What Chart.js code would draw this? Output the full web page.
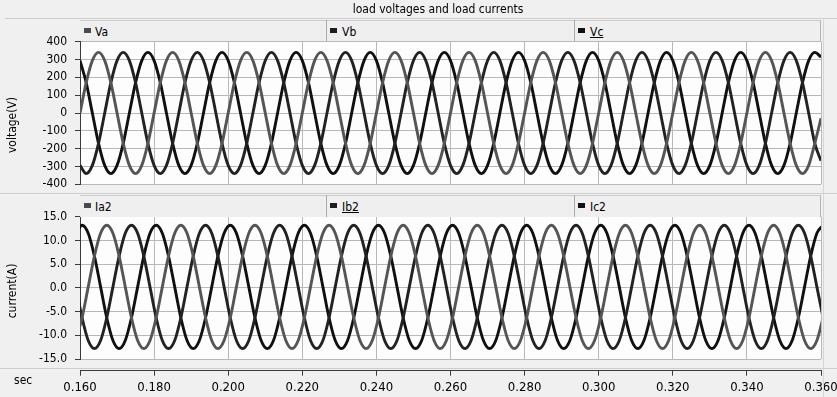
<!DOCTYPE html>
<html><head><meta charset="utf-8">
<script src="https://cdn.jsdelivr.net/npm/chart.js@4.4.1/dist/chart.umd.min.js"></script>
<style>
html,body{margin:0;padding:0;}
body{width:837px;height:397px;background:#f0f0f0;position:relative;overflow:hidden;font-family:"DejaVu Sans Condensed","Liberation Sans",sans-serif;font-size:12px;color:#000;}
.a{position:absolute;}
canvas{position:absolute;left:0;}
.hl{position:absolute;height:1px;background:#cdcdcd;}
.vl{position:absolute;width:1px;background:#a9a9a9;}
.bar{position:absolute;left:80px;width:740px;background:#efefef;border-top:1px solid #cbcbcb;border-right:1px solid #b4b4b4;}
.mk{position:absolute;width:7px;height:5px;}
.lt{position:absolute;line-height:14px;white-space:nowrap;}
.rot{position:absolute;transform:translate(-50%,-50%) rotate(-90deg);white-space:nowrap;line-height:14px;}
</style></head><body>
<canvas id="cV" width="860" height="200" style="top:0px;width:860px;height:200px"></canvas>
<canvas id="cI" width="860" height="180" style="top:195px;width:860px;height:180px"></canvas>
<canvas id="cT" width="860" height="42" style="top:355px;width:860px;height:42px"></canvas>

<div class="a" style="left:338px;width:200px;top:2px;text-align:center;line-height:15px;">load voltages and load currents</div>
<div class="hl" style="left:5px;width:832px;top:18px;"></div>

<div class="bar" style="top:20px;height:20px;"></div>
<div class="vl" style="left:326px;top:20px;height:21px;"></div>
<div class="vl" style="left:574px;top:20px;height:21px;"></div>
<div class="mk" style="left:84px;top:28px;background:#4a4a4a"></div>
<div class="lt" style="left:95px;top:25px;">Va</div>
<div class="mk" style="left:330px;top:28px;background:#1e1e1e"></div>
<div class="lt" style="left:342px;top:25px;">Vb</div>
<div class="mk" style="left:578px;top:28px;background:#111"></div>
<div class="lt" style="left:590px;top:25px;text-decoration:underline;">Vc</div>

<div class="hl" style="left:0px;width:837px;top:193px;"></div>
<div class="bar" style="top:195px;height:21px;"></div>
<div class="vl" style="left:326px;top:195px;height:22px;"></div>
<div class="vl" style="left:574px;top:195px;height:22px;"></div>
<div class="mk" style="left:84px;top:203px;background:#4a4a4a"></div>
<div class="lt" style="left:95px;top:200px;">Ia2</div>
<div class="mk" style="left:330px;top:203px;background:#1e1e1e"></div>
<div class="lt" style="left:342px;top:200px;text-decoration:underline;">Ib2</div>
<div class="mk" style="left:578px;top:203px;background:#111"></div>
<div class="lt" style="left:590px;top:200px;">Ic2</div>

<div class="hl" style="left:0px;width:837px;top:368px;"></div>
<div class="vl" style="left:823px;top:18px;height:379px;background:#d6d6d6"></div>

<div class="rot" style="left:12px;top:125px;">voltage(V)</div>
<div class="rot" style="left:12px;top:291px;">current(A)</div>
<div class="lt" style="left:14px;top:373px;">sec</div>

<script>
// ---- data ----
const xTicks = [0.160, 0.180, 0.200, 0.220, 0.240, 0.260, 0.280, 0.300, 0.320, 0.340, 0.360];
const yTicksV = [-400, -300, -200, -100, 0, 100, 200, 300, 400];
const yTicksI = [-15, -10, -5, 0, 5, 10, 15];

const tV = [
0.16,0.16167,0.16333,0.165,0.16667,0.16833,0.17,0.17167,0.17333,0.175,0.17667,0.17833,
0.18,0.18167,0.18333,0.185,0.18667,0.18833,0.19,0.19167,0.19333,0.195,0.19667,0.19833,
0.2,0.20167,0.20333,0.205,0.20667,0.20833,0.21,0.21167,0.21333,0.215,0.21667,0.21833,
0.22,0.22167,0.22333,0.225,0.22667,0.22833,0.23,0.23167,0.23333,0.235,0.23667,0.23833,
0.24,0.24167,0.24333,0.245,0.24667,0.24833,0.25,0.25167,0.25333,0.255,0.25667,0.25833,
0.26,0.26167,0.26333,0.265,0.26667,0.26833,0.27,0.27167,0.27333,0.275,0.27667,0.27833,
0.28,0.28167,0.28333,0.285,0.28667,0.28833,0.29,0.29167,0.29333,0.295,0.29667,0.29833,
0.3,0.30167,0.30333,0.305,0.30667,0.30833,0.31,0.31167,0.31333,0.315,0.31667,0.31833,
0.32,0.32167,0.32333,0.325,0.32667,0.32833,0.33,0.33167,0.33333,0.335,0.33667,0.33833,
0.34,0.34167,0.34333,0.345,0.34667,0.34833,0.35,0.35167,0.35333,0.355,0.35667,0.35833,
0.36];

const Va = [
0,170,294,340,294,170,0,-170,-294,-340,-294,-170,
0,170,294,340,294,170,0,-170,-294,-340,-294,-170,
0,170,294,340,294,170,0,-170,-294,-340,-294,-170,
0,170,294,340,294,170,0,-170,-294,-340,-294,-170,
0,170,294,340,294,170,0,-170,-294,-340,-294,-170,
0,170,294,340,294,170,0,-170,-294,-340,-294,-170,
0,170,294,340,294,170,0,-170,-294,-340,-294,-170,
0,170,294,340,294,170,0,-170,-294,-340,-294,-170,
0,170,294,340,294,170,0,-170,-294,-340,-294,-170,
0,170,294,340,294,170,0,-170,-294,-340,-294,-170,
-30];
const Vb = [
-294,-340,-294,-170,0,170,294,340,294,170,0,-170,
-294,-340,-294,-170,0,170,294,340,294,170,0,-170,
-294,-340,-294,-170,0,170,294,340,294,170,0,-170,
-294,-340,-294,-170,0,170,294,340,294,170,0,-170,
-294,-340,-294,-170,0,170,294,340,294,170,0,-170,
-294,-340,-294,-170,0,170,294,340,294,170,0,-170,
-294,-340,-294,-170,0,170,294,340,294,170,0,-170,
-294,-340,-294,-170,0,170,294,340,294,170,0,-170,
-294,-340,-294,-170,0,170,294,340,294,170,0,-170,
-294,-340,-294,-170,0,170,294,340,294,170,0,-170,
-268];
const Vc = [
294,170,0,-170,-294,-340,-294,-170,0,170,294,340,
294,170,0,-170,-294,-340,-294,-170,0,170,294,340,
294,170,0,-170,-294,-340,-294,-170,0,170,294,340,
294,170,0,-170,-294,-340,-294,-170,0,170,294,340,
294,170,0,-170,-294,-340,-294,-170,0,170,294,340,
294,170,0,-170,-294,-340,-294,-170,0,170,294,340,
294,170,0,-170,-294,-340,-294,-170,0,170,294,340,
294,170,0,-170,-294,-340,-294,-170,0,170,294,340,
294,170,0,-170,-294,-340,-294,-170,0,170,294,340,
294,170,0,-170,-294,-340,-294,-170,0,170,294,340,
314];

const tI = [
0.15889,0.16056,
0.16222,0.16389,0.16556,0.16722,0.16889,0.17056,0.17222,0.17389,0.17556,0.17722,0.17889,0.18056,
0.18222,0.18389,0.18556,0.18722,0.18889,0.19056,0.19222,0.19389,0.19556,0.19722,0.19889,0.20056,
0.20222,0.20389,0.20556,0.20722,0.20889,0.21056,0.21222,0.21389,0.21556,0.21722,0.21889,0.22056,
0.22222,0.22389,0.22556,0.22722,0.22889,0.23056,0.23222,0.23389,0.23556,0.23722,0.23889,0.24056,
0.24222,0.24389,0.24556,0.24722,0.24889,0.25056,0.25222,0.25389,0.25556,0.25722,0.25889,0.26056,
0.26222,0.26389,0.26556,0.26722,0.26889,0.27056,0.27222,0.27389,0.27556,0.27722,0.27889,0.28056,
0.28222,0.28389,0.28556,0.28722,0.28889,0.29056,0.29222,0.29389,0.29556,0.29722,0.29889,0.30056,
0.30222,0.30389,0.30556,0.30722,0.30889,0.31056,0.31222,0.31389,0.31556,0.31722,0.31889,0.32056,
0.32222,0.32389,0.32556,0.32722,0.32889,0.33056,0.33222,0.33389,0.33556,0.33722,0.33889,0.34056,
0.34222,0.34389,0.34556,0.34722,0.34889,0.35056,0.35222,0.35389,0.35556,0.35722,0.35889,0.36056];

const Ia2 = [-11.1,-6.3,
0.2,6.7,11.5,13.2,11.5,6.7,0.2,-6.3,-11.1,-12.8,-11.1,-6.3,
0.2,6.7,11.5,13.2,11.5,6.7,0.2,-6.3,-11.1,-12.8,-11.1,-6.3,
0.2,6.7,11.5,13.2,11.5,6.7,0.2,-6.3,-11.1,-12.8,-11.1,-6.3,
0.2,6.7,11.5,13.2,11.5,6.7,0.2,-6.3,-11.1,-12.8,-11.1,-6.3,
0.2,6.7,11.5,13.2,11.5,6.7,0.2,-6.3,-11.1,-12.8,-11.1,-6.3,
0.2,6.7,11.5,13.2,11.5,6.7,0.2,-6.3,-11.1,-12.8,-11.1,-6.3,
0.2,6.7,11.5,13.2,11.5,6.7,0.2,-6.3,-11.1,-12.8,-11.1,-6.3,
0.2,6.7,11.5,13.2,11.5,6.7,0.2,-6.3,-11.1,-12.8,-11.1,-6.3,
0.2,6.7,11.5,13.2,11.5,6.7,0.2,-6.3,-11.1,-12.8,-11.1,-6.3,
0.2,6.7,11.5,13.2,11.5,6.7,0.2,-6.3,-11.1,-12.8,-11.1,-6.3];
const Ib2 = [0.2,-6.3,
-11.1,-12.8,-11.1,-6.3,0.2,6.7,11.5,13.2,11.5,6.7,0.2,-6.3,
-11.1,-12.8,-11.1,-6.3,0.2,6.7,11.5,13.2,11.5,6.7,0.2,-6.3,
-11.1,-12.8,-11.1,-6.3,0.2,6.7,11.5,13.2,11.5,6.7,0.2,-6.3,
-11.1,-12.8,-11.1,-6.3,0.2,6.7,11.5,13.2,11.5,6.7,0.2,-6.3,
-11.1,-12.8,-11.1,-6.3,0.2,6.7,11.5,13.2,11.5,6.7,0.2,-6.3,
-11.1,-12.8,-11.1,-6.3,0.2,6.7,11.5,13.2,11.5,6.7,0.2,-6.3,
-11.1,-12.8,-11.1,-6.3,0.2,6.7,11.5,13.2,11.5,6.7,0.2,-6.3,
-11.1,-12.8,-11.1,-6.3,0.2,6.7,11.5,13.2,11.5,6.7,0.2,-6.3,
-11.1,-12.8,-11.1,-6.3,0.2,6.7,11.5,13.2,11.5,6.7,0.2,-6.3,
-11.1,-12.8,-11.1,-6.3,0.2,6.7,11.5,13.2,11.5,6.7,0.2,-6.3];
const Ic2 = [11.5,13.2,
11.5,6.7,0.2,-6.3,-11.1,-12.8,-11.1,-6.3,0.2,6.7,11.5,13.2,
11.5,6.7,0.2,-6.3,-11.1,-12.8,-11.1,-6.3,0.2,6.7,11.5,13.2,
11.5,6.7,0.2,-6.3,-11.1,-12.8,-11.1,-6.3,0.2,6.7,11.5,13.2,
11.5,6.7,0.2,-6.3,-11.1,-12.8,-11.1,-6.3,0.2,6.7,11.5,13.2,
11.5,6.7,0.2,-6.3,-11.1,-12.8,-11.1,-6.3,0.2,6.7,11.5,13.2,
11.5,6.7,0.2,-6.3,-11.1,-12.8,-11.1,-6.3,0.2,6.7,11.5,13.2,
11.5,6.7,0.2,-6.3,-11.1,-12.8,-11.1,-6.3,0.2,6.7,11.5,13.2,
11.5,6.7,0.2,-6.3,-11.1,-12.8,-11.1,-6.3,0.2,6.7,11.5,13.2,
11.5,6.7,0.2,-6.3,-11.1,-12.8,-11.1,-6.3,0.2,6.7,11.5,13.2,
11.5,6.7,0.2,-6.3,-11.1,-12.8,-11.1,-6.3,0.2,6.7,11.5,13.2];

// ---- drawing ----
const FONT = '"DejaVu Sans Condensed","Liberation Sans",sans-serif';
Chart.defaults.font.family = FONT;
Chart.defaults.font.size = 12;
Chart.defaults.color = '#000';
const GRID = '#b8b8b8', AXIS = '#3a3a3a';
const COL = ['#555555', '#222222', '#101010'];

const plotBg = {id:'plotBg', beforeDraw(c){const a=c.chartArea, x=c.ctx; x.save(); x.fillStyle='#fdfdfd'; x.fillRect(a.left,a.top,a.width,a.height); x.restore();}};
const pts = (t, v) => v.map((y, i) => ({x: t[i], y}));
const fixTicks = vals => (s) => { s.ticks = vals.map(v => ({value: v})); };

function wave(id, t, series, names, yTicks, dec, padTop, padBottom) {
  return new Chart(document.getElementById(id), {
    type: 'line',
    data: {datasets: series.map((v, i) => ({label: names[i], data: pts(t, v), borderColor: COL[i], borderWidth: 2.9,
      pointRadius: 0, cubicInterpolationMode: 'monotone', fill: false, clip: 0}))},
    options: {
      responsive: false, animation: false, events: [],
      layout: {padding: {left: 0, right: 39, top: padTop, bottom: padBottom}},
      plugins: {legend: {display: false}, tooltip: {enabled: false}},
      scales: {
        x: {type: 'linear', min: xTicks[0], max: xTicks[xTicks.length-1], afterBuildTicks: fixTicks(xTicks),
            ticks: {display: false}, grid: {color: GRID, drawTicks: false}, border: {display: false},
            afterFit(s){ s.height = 0; }},
        y: {min: yTicks[0], max: yTicks[yTicks.length-1], afterBuildTicks: fixTicks(yTicks),
            ticks: {padding: 8, callback: v => v.toFixed(dec)},
            grid: {color: GRID, tickColor: AXIS, tickLength: 5}, border: {color: AXIS},
            afterFit(s){ s.width = 80; }}
      }
    },
    plugins: [plotBg]
  });
}

wave('cV', tV, [Va, Vb, Vc], ['Va','Vb','Vc'], yTicksV, 0, 41.7, 15.7);
wave('cI', tI, [Ia2, Ib2, Ic2], ['Ia2','Ib2','Ic2'], yTicksI, 1, 21.7, 16);

new Chart(document.getElementById('cT'), {
  type: 'line',
  data: {datasets: []},
  options: {
    responsive: false, animation: false, events: [],
    layout: {padding: {left: 80, right: 39, top: 14.7, bottom: 0}},
    plugins: {legend: {display: false}, tooltip: {enabled: false}},
    scales: {
      x: {type: 'linear', position: 'bottom', min: xTicks[0], max: xTicks[xTicks.length-1], afterBuildTicks: fixTicks(xTicks),
          ticks: {padding: 4, maxRotation: 0, autoSkip: false, font: {size: 13}, callback: v => v.toFixed(3)},
          grid: {drawOnChartArea: false, tickColor: AXIS, tickLength: 5}, border: {color: AXIS},
          afterFit(s){ s.height = 26.3; }},
      y: {display: false, min: 0, max: 1}
    }
  }
});
</script>
</body></html>
